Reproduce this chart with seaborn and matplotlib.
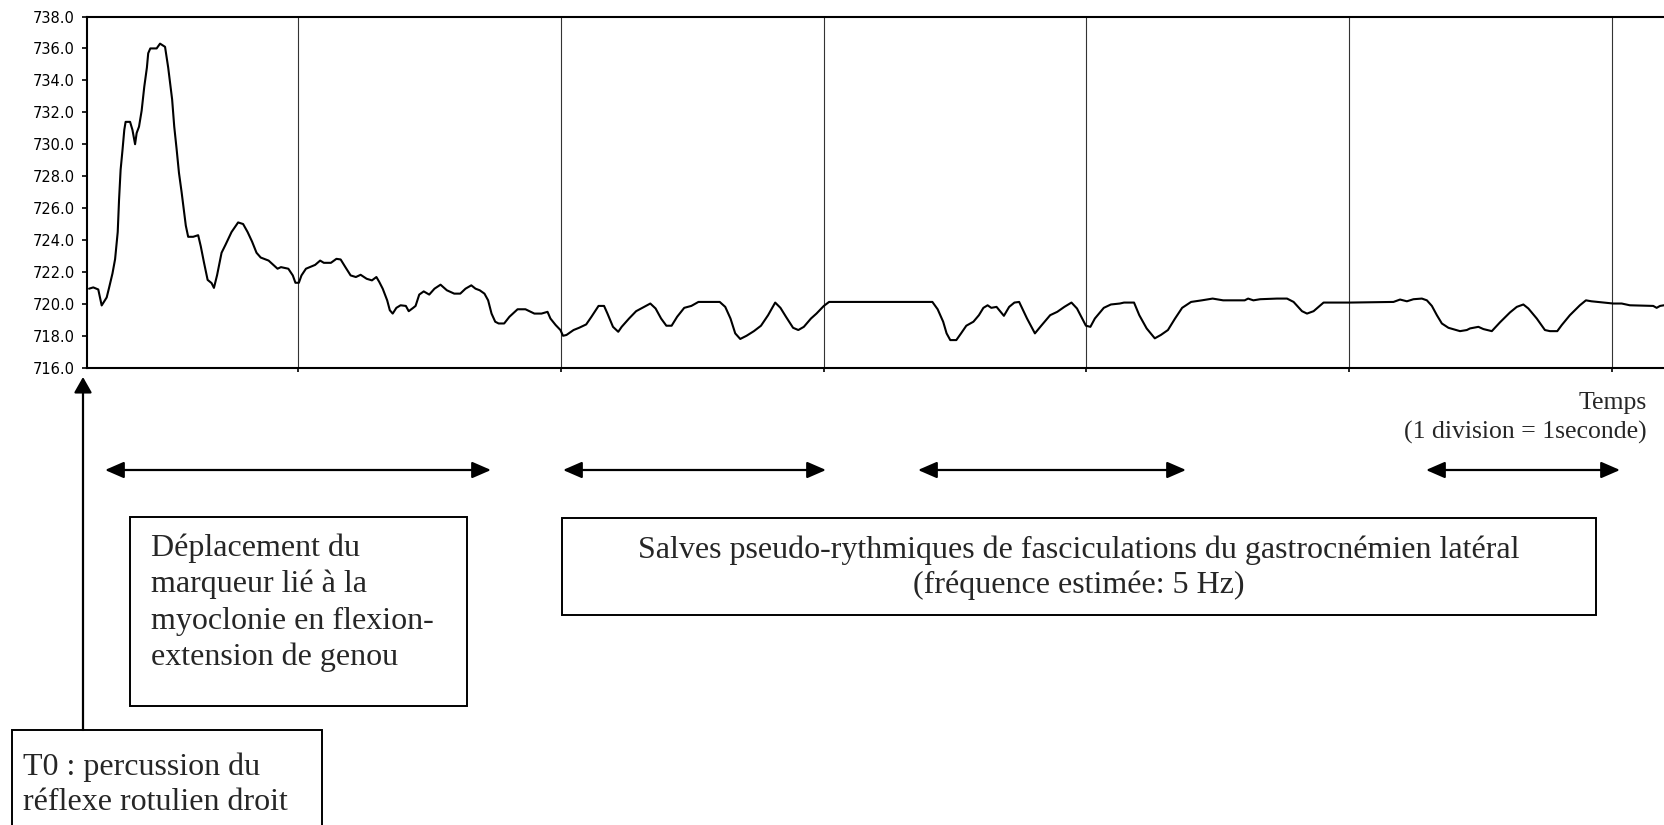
import matplotlib
matplotlib.use("Agg")
import matplotlib.pyplot as plt
import seaborn as sns
import pandas as pd
from matplotlib.patches import Rectangle, FancyArrowPatch, ArrowStyle
from matplotlib.ticker import FixedLocator, FormatStrFormatter

# ---------------- data ----------------
time_s = [
    0.009, 0.025, 0.044, 0.057, 0.076, 0.085, 0.098, 0.108, 0.118, 0.123,
    0.129, 0.136, 0.143, 0.148, 0.165, 0.174, 0.184, 0.190, 0.199, 0.209,
    0.219, 0.229, 0.234, 0.242, 0.266, 0.279, 0.298, 0.310, 0.325, 0.333,
    0.342, 0.351, 0.361, 0.371, 0.377, 0.386, 0.405, 0.424, 0.434, 0.446,
    0.460, 0.475, 0.484, 0.496, 0.513, 0.528, 0.551, 0.576, 0.595, 0.612,
    0.629, 0.646, 0.662,
    0.692, 0.726, 0.739, 0.767, 0.784, 0.794, 0.807, 0.817, 0.834, 0.869,
    0.888, 0.902, 0.929, 0.950, 0.966, 0.984, 1.004, 1.024, 1.042, 1.065,
    1.085, 1.102, 1.113, 1.126, 1.143, 1.153, 1.164, 1.178, 1.194, 1.214,
    1.225, 1.242, 1.251, 1.265, 1.282, 1.303, 1.323, 1.346, 1.370, 1.398,
    1.421, 1.441, 1.463, 1.479, 1.495, 1.513, 1.527, 1.540, 1.554, 1.567,
    1.588, 1.608, 1.639, 1.669, 1.703, 1.730, 1.753, 1.764, 1.784, 1.802,
    1.812, 1.825, 1.852, 1.873, 1.900, 1.920, 1.947, 1.968, 1.981, 2.002,
    2.022, 2.035, 2.063, 2.090, 2.120, 2.144, 2.164, 2.185, 2.205, 2.225,
    2.246, 2.273, 2.300, 2.327, 2.408, 2.429, 2.449, 2.467, 2.486, 2.510,
    2.538, 2.565, 2.592, 2.619, 2.639, 2.660, 2.687, 2.707, 2.728, 2.755,
    2.776, 2.804, 2.824, 3.217, 3.237, 3.258, 3.271, 3.285, 3.308, 3.326,
    3.346, 3.373, 3.394, 3.411, 3.427, 3.441, 3.461, 3.489, 3.509, 3.529,
    3.547, 3.577, 3.607, 3.631, 3.665, 3.692, 3.719, 3.746, 3.767, 3.787,
    3.801, 3.818, 3.835, 3.869, 3.896, 3.930, 3.946, 3.984, 4.004, 4.032,
    4.063, 4.086, 4.113, 4.140, 4.167, 4.201, 4.242, 4.283, 4.323, 4.405,
    4.418, 4.438, 4.464,
    4.528, 4.566, 4.591, 4.623, 4.642, 4.667, 4.686, 4.705, 4.806, 4.971,
    4.996, 5.022, 5.047, 5.079, 5.098, 5.117, 5.136, 5.155, 5.180, 5.224,
    5.250, 5.262, 5.294, 5.313, 5.345, 5.376, 5.414, 5.440, 5.465, 5.484,
    5.516, 5.547, 5.566, 5.594, 5.611, 5.642, 5.680, 5.703, 5.724, 5.807,
    5.839, 5.870, 5.959, 5.972, 5.985, 6.000,
]
position = [
    720.95, 721.03, 720.90, 719.90, 720.40, 721.00, 721.90, 722.80, 724.50, 726.50,
    728.40, 729.60, 730.90, 731.40, 731.40, 730.90, 730.00, 730.70, 731.10, 732.10,
    733.60, 734.80, 735.70, 736.00, 736.00, 736.30, 736.10, 734.80, 732.80, 731.10,
    729.70, 728.20, 727.00, 725.70, 724.90, 724.20, 724.20, 724.30, 723.60, 722.60,
    721.50, 721.30, 721.00, 721.80, 723.20, 723.70, 724.50, 725.10, 725.00, 724.50,
    723.90, 723.20, 722.90,
    722.71, 722.20, 722.30, 722.20, 721.78, 721.32, 721.32, 721.78, 722.20, 722.44,
    722.71, 722.57, 722.57, 722.82, 722.78, 722.30, 721.78, 721.68, 721.82, 721.57,
    721.47, 721.68, 721.37, 720.95, 720.22, 719.60, 719.39, 719.75, 719.91, 719.87,
    719.54, 719.75, 719.87, 720.58, 720.78, 720.58, 720.95, 721.20, 720.85, 720.64,
    720.64, 720.95, 721.16, 720.95, 720.85, 720.64, 720.22, 719.39, 718.88, 718.77,
    718.77, 719.19, 719.66, 719.66, 719.39, 719.39, 719.50, 719.08, 718.67, 718.36,
    718.00, 718.05, 718.36, 718.50, 718.71, 719.19, 719.87, 719.87, 719.39, 718.56,
    718.25, 718.56, 719.08, 719.54, 719.81, 720.02, 719.71, 719.08, 718.63, 718.63,
    719.19, 719.75, 719.87, 720.12, 720.12, 719.81, 719.08, 718.15, 717.80, 718.00,
    718.29, 718.63, 719.29, 720.08, 719.75, 719.19, 718.50, 718.36, 718.56, 719.08,
    719.39, 719.87, 720.12, 720.12, 719.66, 718.88, 718.15, 717.73, 717.73, 718.15,
    718.63, 718.88, 719.29, 719.75, 719.91, 719.75, 719.81, 719.25, 719.81, 720.08,
    720.12, 719.08, 718.15, 718.63, 719.29, 719.50, 719.81, 720.08, 719.71, 719.08,
    718.63, 718.56, 719.08, 719.75, 719.96, 720.02, 720.08, 720.08, 719.29, 718.46,
    717.84, 718.05, 718.36, 719.08, 719.75, 720.12, 720.22, 720.33, 720.22, 720.22,
    720.33, 720.22, 720.29,
    720.33, 720.33, 720.12, 719.54, 719.39, 719.54, 719.81, 720.08, 720.08, 720.12,
    720.27, 720.16, 720.29, 720.33, 720.22, 719.87, 719.29, 718.77, 718.50, 718.29,
    718.36, 718.46, 718.56, 718.42, 718.29, 718.84, 719.46, 719.81, 719.96, 719.71,
    719.08, 718.36, 718.29, 718.29, 718.67, 719.29, 719.91, 720.22, 720.16, 720.02,
    720.02, 719.91, 719.87, 719.75, 719.87, 719.91,
]
second_marks = [0.803, 1.803, 2.803, 3.803, 4.803, 5.803]
y_ticks = [716, 718, 720, 722, 724, 726, 728, 730, 732, 734, 736, 738]

axis_label_lines = ["Temps", "(1 division = 1seconde)"]
box1_lines = ["Déplacement du", "marqueur lié à la",
              "myoclonie en flexion-", "extension de genou"]
box2_lines = ["Salves pseudo-rythmiques de fasciculations du gastrocnémien latéral",
              "(fréquence estimée: 5 Hz)"]
t0_lines = ["T0 : percussion du", "réflexe rotulien droit"]

# ---------------- figure ----------------
sns.set_style("white")
W, H = 1664, 825
fig = plt.figure(figsize=(W / 100, H / 100), dpi=100)

def fx(x):
    return x / W

def fy(y):
    return 1 - y / H

ax = fig.add_axes([fx(86.7), fy(367.7), 1 - fx(86.7), fy(16.5) - fy(367.7)])

df = pd.DataFrame({"t": time_s, "pos": position})
sns.lineplot(data=df, x="t", y="pos", ax=ax, color="black", linewidth=1.5,
             estimator=None, sort=False)

ax.set_xlim(0, 6.0)
ax.set_ylim(716, 738)
ax.xaxis.set_major_locator(FixedLocator(second_marks))
ax.set_xticklabels([])
ax.yaxis.set_major_locator(FixedLocator(y_ticks))
ax.yaxis.set_major_formatter(FormatStrFormatter("%.1f"))
ax.set_xlabel("")
ax.set_ylabel("")
ax.grid(False)
for xv in second_marks:
    ax.axvline(xv, color="#333333", linewidth=0.8, zorder=0)

for side in ["left", "bottom", "top"]:
    ax.spines[side].set_visible(True)
    ax.spines[side].set_color("black")
    ax.spines[side].set_linewidth(1.5)
ax.spines["right"].set_visible(False)

ax.tick_params(axis="y", which="major", left=True, direction="out", length=3.6,
               width=1.2, pad=5, labelsize=10.5, colors="black")
ax.tick_params(axis="x", which="major", bottom=True, direction="out", length=3,
               width=1.2, colors="black")
for lab in ax.get_yticklabels():
    lab.set_family("DejaVu Sans")

serif = "Liberation Serif"
BIG = 23
SMALL = 18.5

# axis caption
fig.text(fx(1647), fy(409), axis_label_lines[0], ha="right", va="baseline",
         fontsize=SMALL, family=serif)
fig.text(fx(1647), fy(439), axis_label_lines[1], ha="right", va="baseline",
         fontsize=SMALL, family=serif)

# double headed arrows
arrow_spans = [(105, 491), (563, 826), (918, 1186), (1426, 1620)]
dstyle = ArrowStyle("<|-|>", head_length=11.5, head_width=5.0)
for x0, x1 in arrow_spans:
    fig.add_artist(FancyArrowPatch((fx(x0), fy(470)), (fx(x1), fy(470)),
                                   transform=fig.transFigure, arrowstyle=dstyle,
                                   mutation_scale=1, shrinkA=0, shrinkB=0,
                                   color="black", linewidth=1.6))

# boxes
def box(x0, y0, x1, y1):
    fig.add_artist(Rectangle((fx(x0), fy(y1)), fx(x1) - fx(x0), fy(y0) - fy(y1),
                             transform=fig.transFigure, fill=False,
                             edgecolor="black", linewidth=1.4))

box(130, 517, 467, 706)
box(562, 518, 1596, 615)
box(12, 730, 322, 860)

for line, yb in zip(box1_lines, [556, 592, 628.5, 665]):
    fig.text(fx(151), fy(yb), line, ha="left", va="baseline", fontsize=BIG, family=serif)
for line, yb in zip(box2_lines, [558, 593]):
    fig.text(fx(1079), fy(yb), line, ha="center", va="baseline", fontsize=BIG, family=serif)
for line, yb in zip(t0_lines, [775, 810]):
    fig.text(fx(23), fy(yb), line, ha="left", va="baseline", fontsize=BIG, family=serif)

# T0 arrow
ustyle = ArrowStyle("-|>", head_length=9.5, head_width=5.4)
fig.add_artist(FancyArrowPatch((fx(83), fy(730)), (fx(83), fy(377)),
                               transform=fig.transFigure, arrowstyle=ustyle,
                               mutation_scale=1, shrinkA=0, shrinkB=0,
                               color="black", linewidth=1.6))

fig.savefig("out.png", dpi=100, facecolor="white")
